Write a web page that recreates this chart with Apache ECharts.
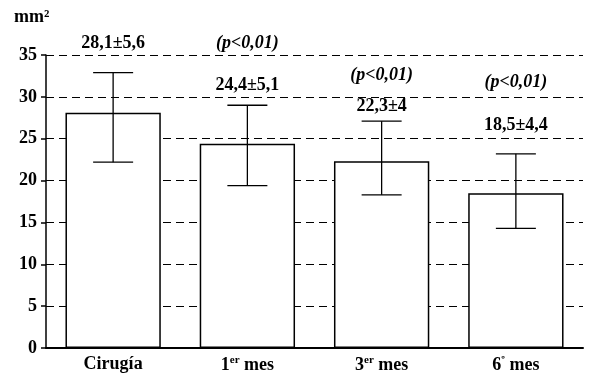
<!DOCTYPE html>
<html><head><meta charset="utf-8">
<script src="https://cdn.jsdelivr.net/npm/echarts@6/dist/echarts.min.js"></script>
<style>html,body{margin:0;padding:0;background:#fff}#c{width:600px;height:388px}</style>
</head><body><div id="c"></div>
<script>
var categories = ['Cirugía', '1er mes', '3er mes', '6º mes'];
var means = [28.1, 24.4, 22.3, 18.5];
var errLow = [22.2, 19.4, 18.3, 14.3];
var errHigh = [32.9, 29.0, 27.1, 23.2];
var meanLabels = ['28,1±5,6', '24,4±5,1', '22,3±4', '18,5±4,4'];
var pLabels = ['', '(p<0,01)', '(p<0,01)', '(p<0,01)'];
var yTicks = [0, 5, 10, 15, 20, 25, 30, 35];

// label placement (layout, in axis units)
var meanLabelY = [36.4, 31.4, 28.9, 26.6];
var pLabelY = [0, 36.4, 32.6, 31.7];

var FONT = '"Liberation Serif", "Times New Roman", serif';
var chart = echarts.init(document.getElementById('c'));

var catRich = {
  b: {fontFamily: FONT, fontWeight: 'bold', fontSize: 18, color: '#000'},
  s: {fontFamily: FONT, fontWeight: 'bold', fontSize: 11, color: '#000', verticalAlign: 'top', padding: [0, 0, 9, 0]}
};
function catFmt(v) {
  if (v === '1er mes') return '{b|1}{s|er}{b| mes}';
  if (v === '3er mes') return '{b|3}{s|er}{b| mes}';
  if (v === '6º mes') return '{b|6}{s|º}{b| mes}';
  return '{b|' + v + '}';
}

chart.setOption({
  animation: false,
  grid: {left: 46, right: 17, top: 55, bottom: 40},
  xAxis: {
    type: 'category', data: categories,
    axisLine: {lineStyle: {color: '#000', width: 2}},
    axisTick: {show: false},
    axisLabel: {formatter: catFmt, rich: catRich, margin: 7}
  },
  yAxis: {
    type: 'value', min: 0, max: 35, interval: 5,
    axisLine: {show: true, lineStyle: {color: '#000', width: 1.5}},
    axisTick: {show: true, length: 5, lineStyle: {color: '#000', width: 1.5}},
    axisLabel: {fontFamily: FONT, fontWeight: 'bold', fontSize: 18, color: '#000', margin: 9,
      formatter: function (v) { return yTicks.indexOf(v) >= 0 ? String(v) : ''; }},
    splitLine: {lineStyle: {color: '#000', type: [8, 5], width: 1.2}}
  },
  graphic: [{
    type: 'text', left: 14, top: 8,
    style: {text: 'mm²', fontFamily: FONT, fontWeight: 'bold', fontSize: 18, fill: '#000'}
  }],
  series: [{
    type: 'bar', data: means, barWidth: '71%',
    itemStyle: {color: '#fff', borderColor: '#000', borderWidth: 1.5},
    z: 2
  }, {
    type: 'custom', z: 3,
    data: categories.map(function (c, i) { return [i, errLow[i], errHigh[i]]; }),
    renderItem: function (params, api) {
      var lo = api.coord([api.value(0), api.value(1)]);
      var hi = api.coord([api.value(0), api.value(2)]);
      var w = 20;
      var st = {stroke: '#000', lineWidth: 1.3};
      return {type: 'group', children: [
        {type: 'line', shape: {x1: hi[0], y1: hi[1], x2: lo[0], y2: lo[1]}, style: st},
        {type: 'line', shape: {x1: hi[0] - w, y1: hi[1], x2: hi[0] + w, y2: hi[1]}, style: st},
        {type: 'line', shape: {x1: lo[0] - w, y1: lo[1], x2: lo[0] + w, y2: lo[1]}, style: st}
      ]};
    }
  }, {
    type: 'custom', z: 4, clip: false,
    data: categories.map(function (c, i) { return [i]; }),
    renderItem: function (params, api) {
      var i = params.dataIndex;
      var children = [];
      var m = api.coord([i, meanLabelY[i]]);
      children.push({type: 'text', x: m[0], y: m[1], style: {text: meanLabels[i], fontFamily: FONT, fontWeight: 'bold', fontSize: 18, fill: '#000', align: 'center', verticalAlign: 'middle'}});
      if (pLabels[i]) {
        var p = api.coord([i, pLabelY[i]]);
        children.push({type: 'text', x: p[0], y: p[1], style: {text: pLabels[i], fontFamily: FONT, fontWeight: 'bold', fontStyle: 'italic', fontSize: 18, fill: '#000', align: 'center', verticalAlign: 'middle'}});
      }
      return {type: 'group', children: children};
    }
  }]
});
</script></body></html>
